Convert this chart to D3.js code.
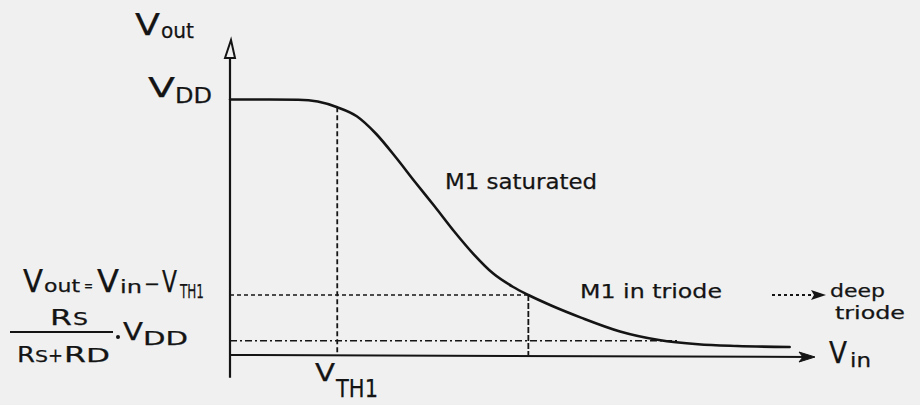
<!DOCTYPE html>
<html>
<head>
<meta charset="utf-8">
<script src="https://cdn.jsdelivr.net/npm/d3@7"></script>
<style>
  html, body { margin: 0; padding: 0; background: #f0f0f0; }
  svg { display: block; }
  text { font-family: "DejaVu Sans", sans-serif; fill: #141414; stroke: #141414; stroke-width: 0.25; }
</style>
</head>
<body>
<svg id="chart" width="920" height="405"></svg>
<script>
// Transfer characteristic of a common-source stage with source degeneration
const vinPts  = [0, 0.20, 0.35, 0.45, 0.55, 0.65, 0.75, 0.85, 0.95, 1.05, 1.15, 1.25, 1.35, 1.45, 1.53, 1.65, 1.80, 2.00, 2.20, 2.40, 2.60, 2.87];
const voutPts = [1.79, 1.79, 1.788, 1.775, 1.735, 1.672, 1.548, 1.385, 1.21, 1.04, 0.865, 0.705, 0.57, 0.478, 0.42, 0.345, 0.262, 0.165, 0.105, 0.075, 0.063, 0.056];

// Reference levels
const VDD = 1.8;          // supply level
const VTH1 = 0.55;        // threshold of M1
const triodeVin = 1.53;   // edge of saturation: Vout = Vin - VTH1
const triodeVout = 0.42;
const divLevel = 0.10;    // Rs/(Rs+RD) * VDD
const divEnd = 2.30;

// Axis extents (data units)
const xAxisMax = 3.0;
const yAxisMin = -0.16;
const yAxisMax = 2.08;

const svg = d3.select("#chart");
svg.append("rect").attr("width", 920).attr("height", 405).attr("fill", "#f0f0f0");

const x = d3.scaleLinear().domain([0, 3.0]).range([230, 815]);
const y = d3.scaleLinear().domain([0, VDD]).range([355, 98]);

const ink = "#141414";

// Guide lines
svg.append("line")
  .attr("x1", x(0)).attr("x2", x(triodeVin))
  .attr("y1", y(triodeVout)).attr("y2", y(triodeVout))
  .attr("stroke", ink).attr("stroke-width", 1.5).attr("stroke-dasharray", "4,3");
svg.append("line")
  .attr("x1", x(0)).attr("x2", x(divEnd))
  .attr("y1", y(divLevel)).attr("y2", y(divLevel))
  .attr("stroke", ink).attr("stroke-width", 1.5).attr("stroke-dasharray", "7,3,2,3");
const vthTop = voutPts[vinPts.indexOf(VTH1)];
svg.append("line")
  .attr("x1", x(VTH1)).attr("x2", x(VTH1))
  .attr("y1", y(vthTop)).attr("y2", y(0))
  .attr("stroke", ink).attr("stroke-width", 1.8).attr("stroke-dasharray", "5,3");
svg.append("line")
  .attr("x1", x(triodeVin)).attr("x2", x(triodeVin))
  .attr("y1", y(triodeVout)).attr("y2", y(0))
  .attr("stroke", ink).attr("stroke-width", 1.8).attr("stroke-dasharray", "6,2");

// Axes
svg.append("line")
  .attr("x1", x(0)).attr("x2", x(0))
  .attr("y1", y(yAxisMin)).attr("y2", y(yAxisMax))
  .attr("stroke", ink).attr("stroke-width", 2.2);
svg.append("path")
  .attr("d", `M${x(0) - 5},${y(yAxisMax)} L${x(0) + 1},${y(yAxisMax) - 18} L${x(0) + 5},${y(yAxisMax)} Z`)
  .attr("fill", "none").attr("stroke", ink).attr("stroke-width", 2);
svg.append("line")
  .attr("x1", x(0)).attr("x2", x(xAxisMax) - 4)
  .attr("y1", y(0)).attr("y2", y(0) + 2)
  .attr("stroke", ink).attr("stroke-width", 2);
svg.append("path")
  .attr("d", `M${x(xAxisMax)},${y(0) + 2} L${x(xAxisMax) - 16},${y(0) - 3} L${x(xAxisMax) - 12},${y(0) + 2} L${x(xAxisMax) - 16},${y(0) + 7} Z`)
  .attr("fill", ink).attr("stroke", ink).attr("stroke-width", 1);

// Curve
const line = d3.line()
  .x((d, i) => x(vinPts[i]))
  .y((d, i) => y(voutPts[i]))
  .curve(d3.curveMonotoneX);
svg.append("path")
  .attr("d", line(vinPts))
  .attr("fill", "none").attr("stroke", ink).attr("stroke-width", 2.6)
  .attr("stroke-linecap", "round");

// "deep triode" arrow
svg.append("line")
  .attr("x1", 772).attr("x2", 812).attr("y1", 295).attr("y2", 295)
  .attr("stroke", ink).attr("stroke-width", 1.8).attr("stroke-dasharray", "3,3");
svg.append("path")
  .attr("d", "M826,295 L811,290 L814,295 L811,300 Z")
  .attr("fill", ink);

// Text helper: each piece placed at its own spot and stretched to its width
function label(xp, yp, txt, size, len) {
  const t = svg.append("text").attr("x", xp).attr("y", yp)
    .attr("font-size", size).text(txt);
  if (len) t.attr("textLength", len).attr("lengthAdjust", "spacingAndGlyphs");
  return t;
}

// Axis names and levels
label(135, 35, "V", 30, 25);
label(161, 38, "out", 22, 33);
label(148, 97, "V", 27, 27);
label(175, 103, "DD", 22, 37);
label(315, 381, "V", 24, 20);
label(336, 397, "TH1", 25, 42);
label(829, 363, "V", 30, 18);
label(850, 367, "in", 20, 21);

// Region names
label(445, 189, "M1 saturated", 21, 152);
label(580, 298, "M1 in triode", 20, 142);
label(830, 297, "deep", 17, 55);
label(835, 319, "triode", 17, 70);

// Vout = Vin − VTH1
label(23, 292, "V", 32, 20);
label(44, 292, "out", 18, 36);
label(84, 291, "=", 14, 9);
label(97, 292, "V", 32, 22);
label(120, 293, "in", 18, 22);
label(144, 290, "−", 18, 16);
label(162, 292, "V", 30, 15);
label(180, 298, "TH1", 19, 24);

// Rs / (Rs + RD) · VDD
label(50, 325, "R", 21, 22);
label(73, 325, "S", 17, 15);
svg.append("line").attr("x1", 10).attr("x2", 113).attr("y1", 332).attr("y2", 332)
  .attr("stroke", ink).attr("stroke-width", 2);
label(17, 362, "R", 21, 18);
label(35, 362, "S", 16, 13);
label(48, 362, "+", 19, 15);
label(64, 362, "R", 21, 22);
label(86, 362, "D", 20, 24);
svg.append("circle").attr("cx", 118).attr("cy", 337).attr("r", 2).attr("fill", ink);
label(123, 340, "V", 24, 20);
label(143, 345, "DD", 19, 45);
</script>
</body>
</html>
